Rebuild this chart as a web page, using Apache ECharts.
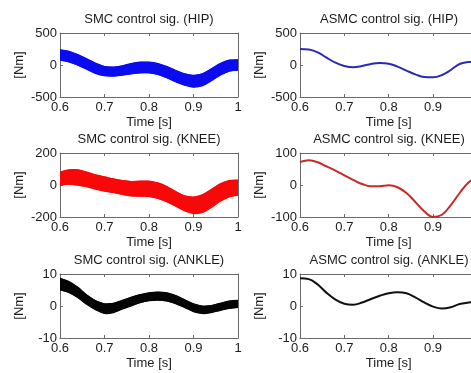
<!DOCTYPE html>
<html>
<head>
<meta charset="utf-8">
<script src="https://cdn.jsdelivr.net/npm/echarts@6/dist/echarts.min.js"></script>
<style>
  html, body { margin: 0; padding: 0; background: #fff; overflow: hidden; }
  /* the right-hand column of panels runs a little past the window edge */
  #chart { width: 484px; height: 373px; }
</style>
</head>
<body>
<div id="chart"></div>
<script>
// Sample instants [s]
const time = [0.60, 0.62, 0.64, 0.66, 0.68, 0.70, 0.72, 0.74, 0.76, 0.78, 0.80,
              0.82, 0.84, 0.86, 0.88, 0.90, 0.92, 0.94, 0.96, 0.98, 1.00];

// SMC hip torque: upper / lower edge of the chattering band [Nm]
const smcHipUpper = [234, 212, 160, 94, 26, -26, -36, -16, 21, 42, 42, 21, -26, -88, -140, -166, -140, -62, 21, 73, 78];
const smcHipLower = [78, 52, 0, -62, -130, -166, -172, -156, -135, -120, -120, -146, -198, -260, -312, -343, -322, -244, -156, -94, -78];
// ASMC hip torque [Nm]
const asmcHip = [250, 244, 198, 114, 36, -16, -36, -16, 16, 31, 21, -26, -88, -146, -187, -192, -156, -78, 16, 47, 55];

// SMC knee torque band [Nm]
const smcKneeUpper = [80, 94, 94, 80, 62, 50, 37, 27, 21, 23, 23, 12, -10, -42, -69, -77, -62, -29, 6, 27, 29];
const smcKneeLower = [0, 6, 0, -10, -25, -37, -46, -58, -67, -69, -71, -83, -104, -131, -160, -177, -171, -139, -100, -73, -62];
// ASMC knee torque [Nm]
const asmcKnee = [72, 77, 71, 58, 45, 30, 16, 3, -4, -4, -1, -7, -25, -53, -82, -100, -93, -63, -25, 8, 25];

// SMC ankle torque band [Nm]
const smcAnkleUpper = [8.6, 7.6, 5.8, 3.4, 1.6, 0.6, 0.8, 1.7, 2.7, 3.5, 4.1, 4.3, 4.1, 3.2, 1.9, 0.6, -0.1, 0.1, 0.8, 1.5, 1.7];
const smcAnkleLower = [5.1, 4.3, 2.7, 0.6, -1.1, -2.3, -2.0, -0.9, 0.1, 1.1, 1.7, 1.9, 1.6, 0.8, -0.4, -1.7, -2.3, -2.0, -1.3, -0.7, -0.4];
// ASMC ankle torque [Nm]
const asmcAnkle = [8.7, 8.4, 6.7, 4.1, 2.0, 0.7, 0.4, 1.1, 2.2, 3.2, 4.0, 4.3, 4.0, 2.7, 1.1, -0.2, -0.8, -0.4, 0.6, 1.1, 1.5];

// Panel titles and y ranges
const titles = [
  'SMC control sig. (HIP)', 'ASMC control sig. (HIP)',
  'SMC control sig. (KNEE)', 'ASMC control sig. (KNEE)',
  'SMC control sig. (ANKLE)', 'ASMC control sig. (ANKLE)'
];
const yRanges = [[-500, 500, 500], [-500, 500, 500], [-200, 200, 200], [-100, 100, 100], [-10, 10, 10], [-10, 10, 10]];

const FONT = '"Liberation Sans", Arial, sans-serif';
const AXIS_COLOR = '#6a6a6a';
const TEXT_COLOR = '#1c1c1c';

const colLeft = [60, 300];
const rowTop = [33, 153, 274];
const plotW = 178, plotH = 64;

const grids = [], xAxes = [], yAxes = [], series = [], graphics = [];

function frameAxis(extra) {
  return Object.assign({
    axisLine: { show: true, onZero: false, lineStyle: { color: AXIS_COLOR, width: 1 } },
    axisTick: { show: true, inside: true, length: 3, lineStyle: { color: AXIS_COLOR } },
    splitLine: { show: false }
  }, extra);
}

for (let p = 0; p < 6; p++) {
  const r = Math.floor(p / 2), c = p % 2;
  const left = colLeft[c], top = rowTop[r];
  grids.push({ left: left, top: top, width: plotW, height: plotH, show: false });

  const [ymin, ymax, yint] = yRanges[p];
  xAxes.push(frameAxis({
    type: 'value', gridIndex: p, min: 0.6, max: 1, interval: 0.1, position: 'bottom',
    axisLabel: { fontSize: 13, color: TEXT_COLOR, fontFamily: FONT, margin: 4,
                 formatter: v => String(+v.toFixed(1)) },
    name: 'Time [s]', nameLocation: 'middle', nameGap: 19,
    nameTextStyle: { fontSize: 13, color: TEXT_COLOR, fontFamily: FONT }
  }));
  xAxes.push(frameAxis({
    type: 'value', gridIndex: p, min: 0.6, max: 1, interval: 0.1, position: 'top',
    axisLabel: { show: false }
  }));
  yAxes.push(frameAxis({
    type: 'value', gridIndex: p, min: ymin, max: ymax, interval: yint, position: 'left',
    axisLabel: { fontSize: 13, color: TEXT_COLOR, fontFamily: FONT, margin: 3 },
    name: '[Nm]', nameLocation: 'middle', nameGap: 34, nameRotate: 90,
    nameTextStyle: { fontSize: 13, color: TEXT_COLOR, fontFamily: FONT }
  }));
  yAxes.push(frameAxis({
    type: 'value', gridIndex: p, min: ymin, max: ymax, interval: yint, position: 'right',
    axisLabel: { show: false }
  }));

  graphics.push({
    type: 'text', x: left + plotW / 2, y: top - 14,
    style: { text: titles[p], fontSize: 13, fontFamily: FONT, fill: TEXT_COLOR,
             textAlign: 'center', textVerticalAlign: 'middle' }
  });
}

// chattering band: filled polygon between the upper and lower edges
function band(p, hi, lo, color) {
  series.push({
    type: 'custom', xAxisIndex: 2 * p, yAxisIndex: 2 * p,
    coordinateSystem: 'cartesian2d', silent: true, clip: true,
    data: time.map((t, i) => [t, hi[i], lo[i]]),
    encode: { x: 0, y: [1, 2] },
    renderItem: function (params, api) {
      if (params.dataIndex !== 0) return;
      const upper = time.map((t, i) => api.coord([t, hi[i]]));
      const lower = time.map((t, i) => api.coord([t, lo[i]])).reverse();
      return {
        type: 'group',
        children: [
          { type: 'polyline', shape: { points: upper, smooth: 0.35 },
            style: { stroke: color, lineWidth: 1.5, fill: null } },
          { type: 'polyline', shape: { points: lower, smooth: 0.35 },
            style: { stroke: color, lineWidth: 1.5, fill: null } },
          { type: 'polygon', shape: { points: upper.concat(lower), smooth: 0 },
            style: { fill: color, stroke: color, lineWidth: 1 } }
        ]
      };
    }
  });
}
function curve(p, vals, color) {
  series.push({
    type: 'line', xAxisIndex: 2 * p, yAxisIndex: 2 * p,
    data: time.map((t, i) => [t, vals[i]]),
    smooth: 0.4, symbol: 'none', silent: true,
    lineStyle: { color: color, width: 2 }
  });
}

band(0, smcHipUpper, smcHipLower, '#0b0bf0');
curve(1, asmcHip, '#2a2ab8');
band(2, smcKneeUpper, smcKneeLower, '#f80808');
curve(3, asmcKnee, '#c82828');
band(4, smcAnkleUpper, smcAnkleLower, '#050505');
curve(5, asmcAnkle, '#111111');

const chart = echarts.init(document.getElementById('chart'), null, { renderer: 'canvas' });
chart.setOption({
  animation: false,
  backgroundColor: '#ffffff',
  grid: grids,
  xAxis: xAxes,
  yAxis: yAxes,
  series: series,
  graphic: graphics
});
</script>
</body>
</html>
